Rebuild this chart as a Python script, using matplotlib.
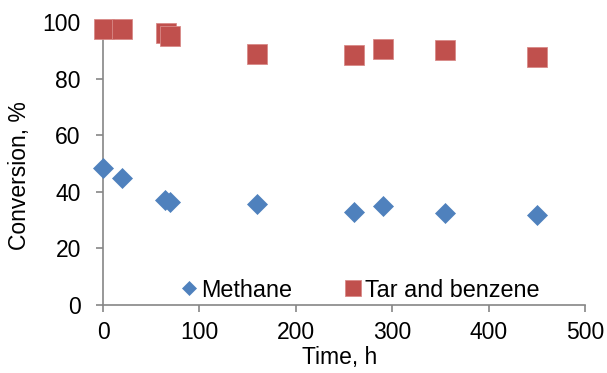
import matplotlib.pyplot as plt

plt.rcParams['font.family'] = ['Liberation Sans', 'DejaVu Sans']

# methane conversion
t_methane = [0, 20, 64, 69, 160, 260, 290, 355, 450]
methane = [48.4, 44.9, 37.1, 36.4, 35.6, 33.0, 35.1, 32.4, 31.8]

# tar and benzene conversion
t_tar = [1, 20, 65, 69, 160, 260, 290, 355, 450]
tar = [97.5, 97.5, 96.1, 95.0, 88.8, 88.3, 90.5, 90.0, 87.7]

blue = '#4F81BD'
red = '#C0504D'
grey = '#868686'

fig = plt.figure(figsize=(6.07, 3.73), dpi=100)
ax = fig.add_axes([0.1697, 0.1823, 0.7941, 0.7587])

ax.plot(t_methane, methane, linestyle='none', marker='D', markersize=9.7,
        color=blue, markeredgecolor=blue, markeredgewidth=0.5, label='Methane',
        zorder=3, clip_on=False)
ax.plot(t_tar, tar, linestyle='none', marker='s', markersize=14.2,
        color=red, markeredgecolor='#D88A88', markeredgewidth=0.6, label='Tar and benzene',
        zorder=3, clip_on=False)

ax.set_xlim(0, 500)
ax.set_ylim(0, 100)
ax.set_xticks(range(0, 501, 100))
ax.set_yticks(range(0, 101, 20))

for side in ['top', 'right']:
    ax.spines[side].set_visible(False)
for side in ['left', 'bottom']:
    ax.spines[side].set_color(grey)
    ax.spines[side].set_linewidth(1.2)

ax.tick_params(axis='both', colors=grey, labelcolor='black', labelsize=16.5,
               length=5, width=1.2, direction='out')
ax.tick_params(axis='x', pad=6.5)
ax.tick_params(axis='y', pad=11)

ax.set_xlabel('Time, h', fontsize=16.5, va='top')
ax.xaxis.set_label_coords(0.49, -0.145)
ax.set_ylabel('Conversion, %', fontsize=16.5)
ax.yaxis.set_label_coords(-0.150, 0.459)

leg = ax.legend(loc='center', ncol=2, frameon=False, fontsize=16.8,
                handlelength=0.8, handletextpad=0.1, columnspacing=2.23,
                borderpad=0, bbox_to_anchor=(0.532, 0.053))
leg.legend_handles[0].set_markersize(7.6)
leg.legend_handles[1].set_markersize(11.5)

fig.savefig('out.png', dpi=100)
